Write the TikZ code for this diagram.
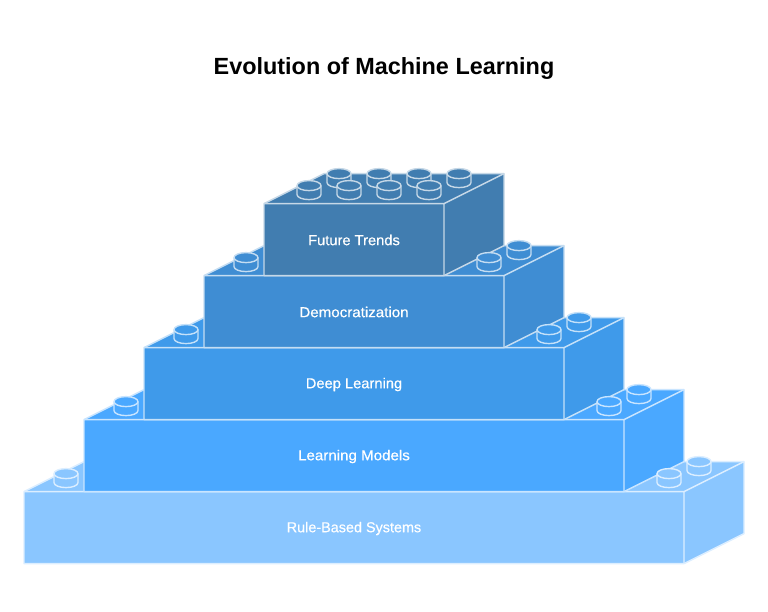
\documentclass[tikz,border=0pt]{standalone}
\usepackage{fontspec}
\setmainfont{Liberation Sans}
\newfontfamily\lblfont[FakeBold=0.5]{Liberation Sans}
\definecolor{cRule}{HTML}{8AC6FF}
\definecolor{cLearn}{HTML}{4AA8FF}
\definecolor{cDeep}{HTML}{3F9AEA}
\definecolor{cDemo}{HTML}{3F8DD3}
\definecolor{cFut}{HTML}{417DB0}
\newcommand{\stud}[3]{% x y colour
  \fill[#3] (#1-12,#2) arc[start angle=180,end angle=360,x radius=12,y radius=5] -- ++(0,9) arc[start angle=0,end angle=180,x radius=12,y radius=5] -- cycle;
  \draw[edge=#3] (#1-12,#2) -- ++(0,9) arc[start angle=180,end angle=0,x radius=12,y radius=5] -- ++(0,-9);
  \draw[edge=#3] (#1,#2) ellipse[x radius=12,y radius=5];
}
\tikzset{
  edge/.style={draw=white!70!#1, line width=1.4pt, line join=round},
  lbl/.style={text=white, font=\lblfont\fontsize{14.4}{16}\selectfont, inner sep=0pt, anchor=center, transform shape},
  ttl/.style={text=black, font=\fontsize{23.4}{28}\bfseries\selectfont, inner sep=0pt, anchor=center}
}
\begin{document}
\begin{tikzpicture}[x=1pt,y=-1pt]
\useasboundingbox (0,0) rectangle (768,612);
\fill[white] (0,0) rectangle (768,612);
\node[ttl] (title) at (384,68.5) {Evolution of Machine Learning};
\begin{scope}[yshift=-0.6pt]
% bricks, bottom to top
\fill[cRule] (24,491) -- (84,461) -- (744,461) -- (744,533) -- (684,563) -- (24,563) -- cycle;
\draw[edge=cRule] (24,491) -- (84,461) -- (744,461) -- (744,533) -- (684,563) -- (24,563) -- cycle;
\draw[edge=cRule] (24,491) -- (684,491) -- (744,461) (684,491) -- (684,563);
\fill[cLearn] (84,419) -- (144,389) -- (684,389) -- (684,461) -- (624,491) -- (84,491) -- cycle;
\draw[edge=cLearn] (84,419) -- (144,389) -- (684,389) -- (684,461) -- (624,491) -- (84,491) -- cycle;
\draw[edge=cLearn] (84,419) -- (624,419) -- (684,389) (624,419) -- (624,491);
\fill[cDeep] (144,347) -- (204,317) -- (624,317) -- (624,389) -- (564,419) -- (144,419) -- cycle;
\draw[edge=cDeep] (144,347) -- (204,317) -- (624,317) -- (624,389) -- (564,419) -- (144,419) -- cycle;
\draw[edge=cDeep] (144,347) -- (564,347) -- (624,317) (564,347) -- (564,419);
\fill[cDemo] (204,275) -- (264,245) -- (564,245) -- (564,317) -- (504,347) -- (204,347) -- cycle;
\draw[edge=cDemo] (204,275) -- (264,245) -- (564,245) -- (564,317) -- (504,347) -- (204,347) -- cycle;
\draw[edge=cDemo] (204,275) -- (504,275) -- (564,245) (504,275) -- (504,347);
\fill[cFut] (264,203) -- (324,173) -- (504,173) -- (504,245) -- (444,275) -- (264,275) -- cycle;
\draw[edge=cFut] (264,203) -- (324,173) -- (504,173) -- (504,245) -- (444,275) -- (264,275) -- cycle;
\draw[edge=cFut] (264,203) -- (444,203) -- (504,173) (444,203) -- (444,275);
% studs
\stud{66}{473}{cRule}\stud{699}{461}{cRule}\stud{669}{473}{cRule}
\stud{126}{401}{cLearn}\stud{639}{389}{cLearn}\stud{609}{401}{cLearn}
\stud{186}{329}{cDeep}\stud{579}{317}{cDeep}\stud{549}{329}{cDeep}
\stud{246}{257}{cDemo}\stud{519}{245}{cDemo}\stud{489}{257}{cDemo}
\stud{339}{173}{cFut}\stud{379}{173}{cFut}\stud{419}{173}{cFut}\stud{459}{173}{cFut}
\stud{309}{185}{cFut}\stud{349}{185}{cFut}\stud{389}{185}{cFut}\stud{429}{185}{cFut}
\end{scope}
% labels
\node[lbl] (l1) at (354,528.5) {Rule-Based Systems};
\node[lbl,xscale=1.05] (l2) at (354,456.5) {Learning Models};
\node[lbl,xscale=1.02] (l3) at (354,384.5) {Deep Learning};
\node[lbl,xscale=1.05] (l4) at (354,312) {Democratization};
\node[lbl,xscale=1.02] (l5) at (354,240) {Future Trends};
\end{tikzpicture}
\end{document}
